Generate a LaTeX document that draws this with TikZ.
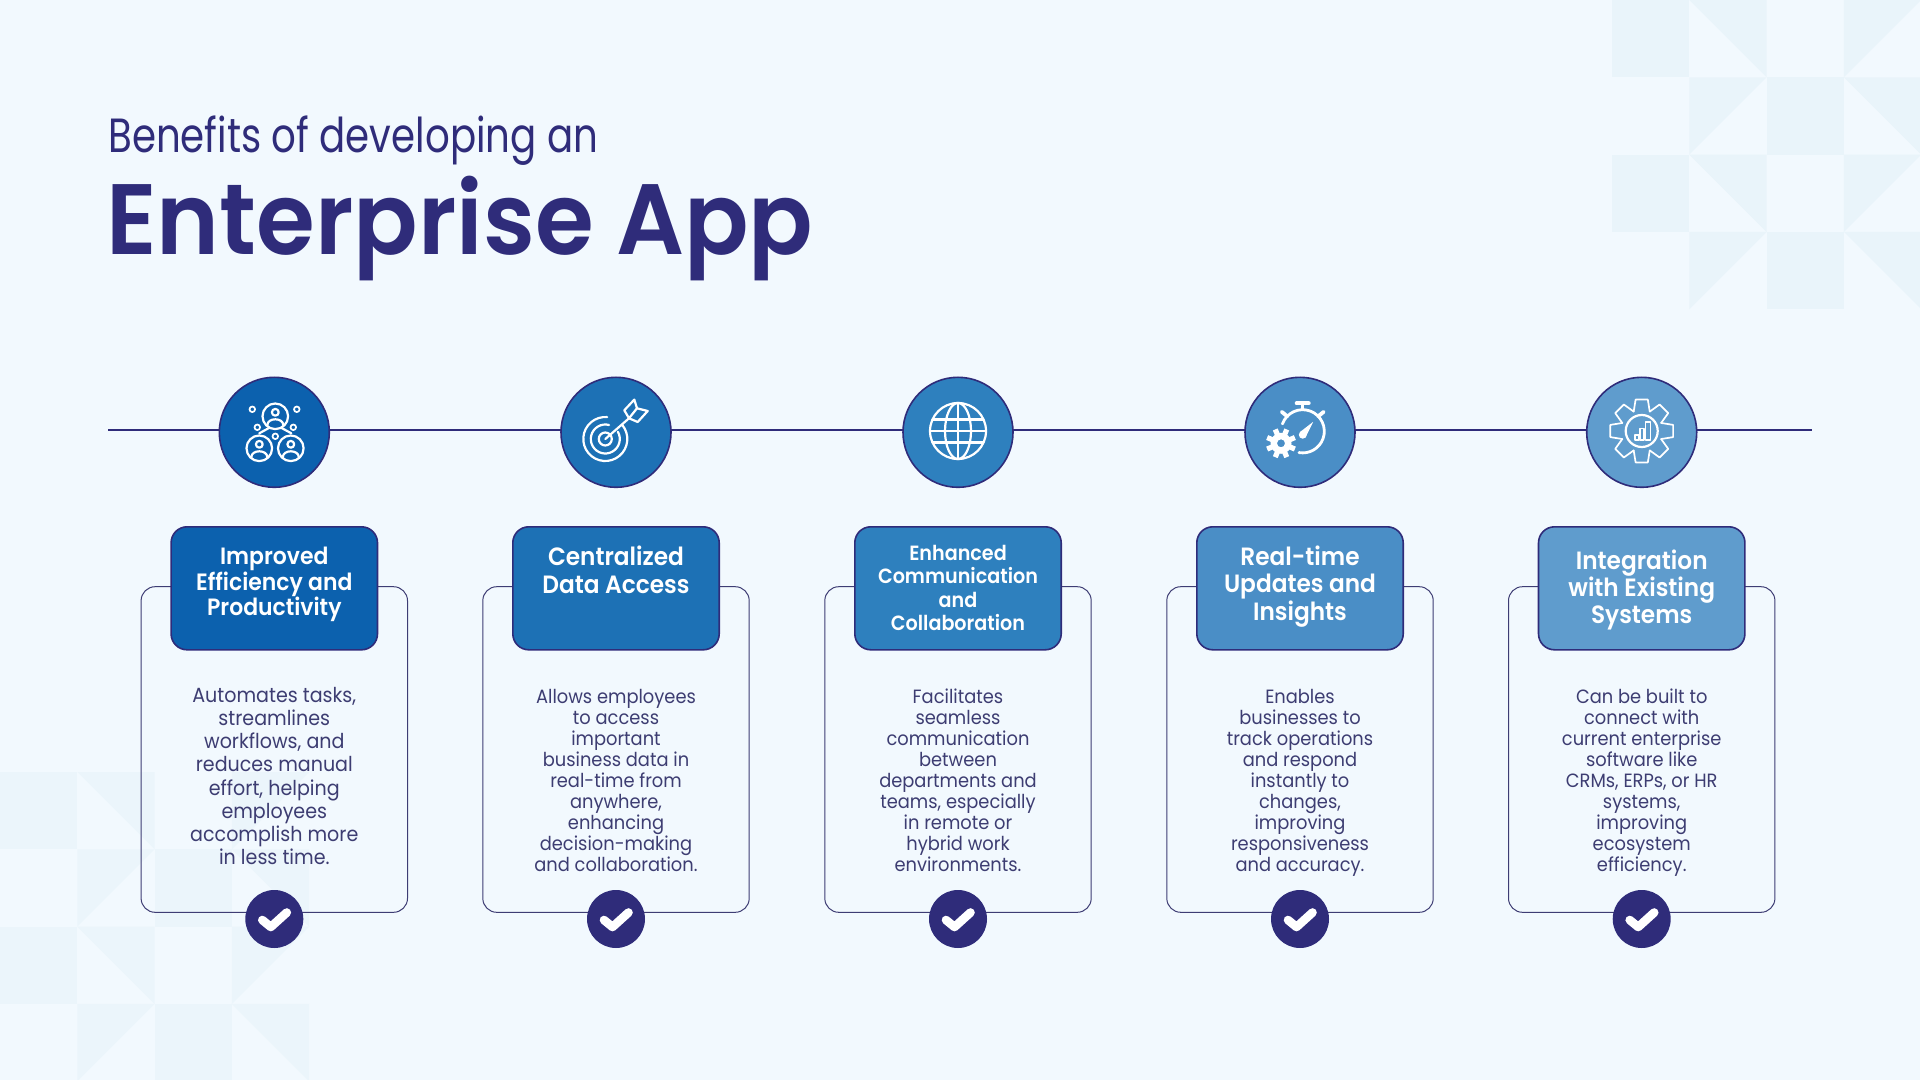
\documentclass[tikz,border=0pt]{standalone}
\usepackage{fontspec}
\setmainfont{Poppins}[FakeStretch=0.93]
\newfontfamily\titlefont{Poppins SemiBold}[FakeStretch=0.951]
\newfontfamily\subfont{Poppins}[FakeStretch=0.807]
\newfontfamily\headfont{Poppins SemiBold}[FakeStretch=0.93]
\usetikzlibrary{calc}
\definecolor{bg}{HTML}{F2F9FE}
\definecolor{tile}{HTML}{E9F4FA}
\definecolor{tilesoft}{HTML}{EBF5FB}
\definecolor{navy}{HTML}{2F2C7A}
\definecolor{ink}{HTML}{3D3D72}
\definecolor{cardline}{HTML}{3E3D74}
\definecolor{blueA}{HTML}{0C61AE}
\definecolor{blueB}{HTML}{1D71B5}
\definecolor{blueC}{HTML}{2E80BE}
\definecolor{blueD}{HTML}{4A8EC6}
\definecolor{blueE}{HTML}{5F9CCD}
\tikzset{
  track/.style={draw=navy, line width=1pt},
  ico/.style={circle, draw=navy, line width=0.8pt, minimum size=55pt, inner sep=0pt},
  card/.style={draw=cardline, line width=0.5pt, rounded corners=7pt, minimum width=133.2pt, minimum height=162.8pt, inner sep=0pt},
  headbox/.style={draw=navy, line width=0.8pt, rounded corners=8pt, minimum width=103.2pt, minimum height=61.5pt, inner sep=0pt},
  headlab/.style={text=white, align=center, inner sep=0pt, font=\headfont\fontsize{12.5}{13.7}\selectfont},
  headsm/.style={headlab, font=\headfont\fontsize{11.8}{12.85}\selectfont},
  headxs/.style={headlab, font=\headfont\fontsize{10.3}{11.6}\selectfont},
  bodylab/.style={text=ink, align=center, inner sep=0pt, font=\fontsize{9.6}{10.5}\selectfont},
  bodylg/.style={bodylab, font=\fontsize{10.25}{11.55}\selectfont},
  chk/.style={circle, fill=navy, minimum size=29pt, inner sep=0pt},
  tickmark/.style={draw=white, line width=4.3pt, line cap=round, line join=round},
  ic/.style={draw=white, line width=1.1pt, line cap=round, line join=round},
  icthin/.style={draw=white, line width=0.85pt, line cap=round, line join=round},
  icbold/.style={draw=white, line width=1.4pt, line cap=round, line join=round},
}
% small person inside a ring
\newcommand{\personmark}[2]{
  \begin{scope}[shift={(#1,#2)}]
    \draw[ic] (0,0) circle (12.8);
    \draw[ic] (0,-4) circle (3.4);
    \draw[ic] (-8,9) .. controls (-8,1) and (8,1) .. (8,9);
  \end{scope}
}
\newcommand{\iconpeople}{
  \personmark{1}{-16}
  \personmark{-15}{16}
  \personmark{16.5}{16}
  \draw[ic] (-15,1) -- (-5,-4.5);
  \draw[ic] (17,1) -- (7,-4.5);
  \foreach \dotx/\doty in {-22/-23,22.5/-23,-17/-5,19/-5,1/4}
    \draw[icthin] (\dotx,\doty) circle (2.8);
}
\newcommand{\icontarget}{
  \draw[ic] (-10.7,6.7) ++(-40:22) arc (-40:275:22);
  \draw[ic] (-10.7,6.7) ++(-30:14.5) arc (-30:285:14.5);
  \draw[ic] (-10.7,6.7) circle (6.5);
  \draw[ic] (-10.7,6.7) -- (13,-14);
  \draw[ic] (13,-14) -- (8.3,-22) -- (18.3,-32.7) -- (21,-24) -- (31.7,-21.3) -- (21.7,-10.3) -- cycle;
  \draw[ic] (13,-14) -- (21,-24);
}
\newcommand{\iconglobe}{
  \begin{scope}[shift={(0,-1.3)}]
    \draw[ic] (0,0) circle (28);
    \draw[ic] (0,0) ellipse (13 and 28);
    \draw[ic] (0,-28) -- (0,28);
    \draw[ic] (-28,0) -- (28,0);
    \draw[ic] (-25.5,-11.5) -- (25.5,-11.5);
    \draw[ic] (-25.5,11.5) -- (25.5,11.5);
  \end{scope}
}
\newcommand{\iconwatch}{
  \begin{scope}[shift={(2.7,-1)}]
    \draw[icbold] (200:21.6) arc (200:460:21.6);
    \draw[draw=white, line width=2pt, line cap=round] (-6,-28) -- (6,-28);
    \draw[icbold] (0,-28) -- (0,-22);
    \draw[draw=white, line width=1.9pt, line cap=round] (-21,-19.5) -- (-15.5,-15);
    \draw[draw=white, line width=1.9pt, line cap=round] (21,-19.5) -- (15.5,-15);
    \fill[white] (0,3.5) circle (3.9);
    \fill[white] (-2.8,0.8) -- (10.5,-9.5) -- (2.8,6.2) -- cycle;
  \end{scope}
  \begin{scope}[shift={(-19,11)}]
    \foreach \ang in {22.5,67.5,112.5,157.5,202.5,247.5,292.5,337.5}
      \draw[draw=white, line width=2.6pt] (\ang:9) -- (\ang:15);
    \fill[white, even odd rule] (0,0) circle (10.5) (0,0) circle (4);
  \end{scope}
}
\newcommand{\icongear}{
  \begin{scope}[shift={(0,-1.3)}]
    \foreach \ang in {0,45,90,135,180,225,270,315}
      \draw[icthin] ({\ang-22.5}:21) -- ({\ang-11}:32) -- ({\ang+11}:32) -- ({\ang+22.5}:21);
    \draw[ic] (0,0) circle (16);
    \draw[icthin] (-6.5,8.8) rectangle (-2.6,3.8);
    \draw[icthin] (-2,8.8) rectangle (2,-2.6);
    \draw[icthin] (3.8,8.8) rectangle (8.8,-9.2);
  \end{scope}
}
% faint pinwheel squares of the backdrop
\newcommand{\bgtiles}[3]{
  \begin{scope}[shift={(#1,#2)}, x=38.65pt, y=-38.65pt]
    \foreach \cc/\rr in {0/0,2/1,0/2,2/3}
      \fill[#3] (\cc,\rr) rectangle ++(1,1);
    \foreach \cc/\rr in {1/0,3/1,1/2,3/3}
      \fill[#3] (\cc,\rr) -- ++(1,0) -- ++(0,1) -- cycle;
    \foreach \cc/\rr in {3/0,1/1,3/2,1/3}
      \fill[#3] (\cc,\rr) -- ++(1,0) -- ++(-1,1) -- cycle;
  \end{scope}
}
\begin{document}
\begin{tikzpicture}[x=0.5pt,y=-0.5pt]
  \useasboundingbox (0,0) rectangle (1920,1080);
  \fill[bg] (0,0) rectangle (1920,1080);
  \bgtiles{1612}{0}{tile}
  \bgtiles{0}{772}{tilesoft}

  \node[anchor=base west, inner sep=0pt, text=navy, font=\subfont\fontsize{24}{28}\selectfont] (sub) at (108,153) {Benefits of developing an};
  \node[anchor=base west, inner sep=0pt, text=navy, font=\titlefont\fontsize{50}{60}\selectfont] (title) at (106,255) {Enterprise App};

  \coordinate (lineL) at (108,429.5);
  \coordinate (lineR) at (1812,429.5);
  \draw[track] (lineL) -- (lineR);

  % circles, cards and ticks
  \foreach \n/\px/\col in {1/274.3/blueA, 2/616/blueB, 3/958/blueC, 4/1300/blueD, 5/1641.7/blueE}{
    \node[ico, fill=\col] (ico\n) at (\px,432.3) {};
    \node[card] (card\n) at (\px,749.5) {};
    \node[headbox, fill=\col] (head\n) at (\px,588.3) {};
    \node[chk] (chk\n) at (\px,919) {};
    \draw[tickmark] ($(chk\n)+(-12,1)$) -- ($(chk\n)+(-3.5,8)$) -- ($(chk\n)+(12.5,-6.5)$);
  }

  \begin{scope}[shift={(ico1)}] \iconpeople \end{scope}
  \begin{scope}[shift={(ico2)}] \icontarget \end{scope}
  \begin{scope}[shift={(ico3)}] \iconglobe \end{scope}
  \begin{scope}[shift={(ico4)}] \iconwatch \end{scope}
  \begin{scope}[shift={(ico5)}] \icongear \end{scope}

  % head texts
  \node[headsm] (hlab1) at (274.3,584.5) {Improved\\Efficiency and\\Productivity};
  \node[headlab] (hlab2) at (616,570) {Centralized\\Data Access};
  \node[headxs] (hlab3) at (958,588) {Enhanced\\Communication\\and\\Collaboration};
  \node[headlab] (hlab4) at (1300,586.5) {Real-time\\Updates and\\Insights};
  \node[headlab] (hlab5) at (1641.7,590) {Integration\\with Existing\\Systems};

  % body texts
  \node[bodylg] (body1) at (274.3,776) {Automates tasks,\\streamlines\\workflows, and\\reduces manual\\effort, helping\\employees\\accomplish more\\in less time.};
  \node[bodylab] (body2) at (616,780) {Allows employees\\to access\\important\\business data in\\real-time from\\anywhere,\\enhancing\\decision-making\\and collaboration.};
  \node[bodylab] (body3) at (958,780) {Facilitates\\seamless\\communication\\between\\departments and\\teams, especially\\in remote or\\hybrid work\\environments.};
  \node[bodylab] (body4) at (1300,783) {Enables\\businesses to\\track operations\\and respond\\instantly to\\changes,\\improving\\responsiveness\\and accuracy.};
  \node[bodylab] (body5) at (1641.7,783) {Can be built to\\connect with\\current enterprise\\software like\\CRMs, ERPs, or HR\\systems,\\improving\\ecosystem\\efficiency.};
\end{tikzpicture}
\end{document}
